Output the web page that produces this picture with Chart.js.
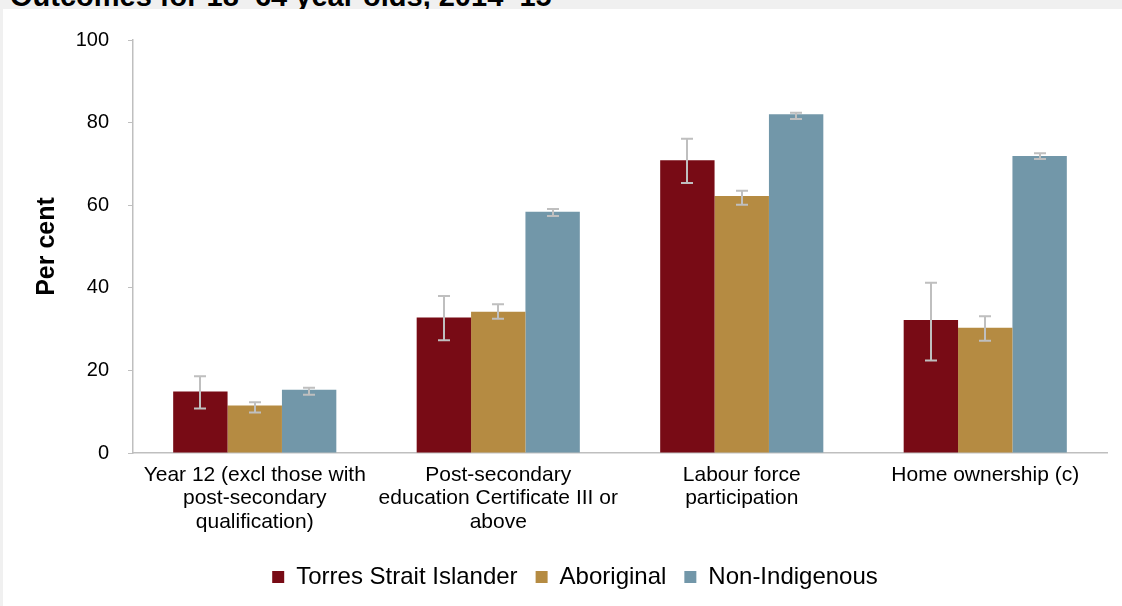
<!DOCTYPE html>
<html>
<head>
<meta charset="utf-8">
<script src="https://cdn.jsdelivr.net/npm/chart.js@4"></script>
<style>
  html, body { margin: 0; padding: 0; }
  body { width: 1122px; height: 606px; background: #f0f0f0; position: relative; overflow: hidden; font-family: "Liberation Sans", Arial, sans-serif; }
  #title { position: absolute; left: 10px; top: -19px; font-size: 29px; line-height: 30px; font-weight: bold; color: #000; white-space: nowrap; }
  #panel { position: absolute; left: 3px; top: 9px; width: 1119px; height: 597px; background: #fff; }
</style>
</head>
<body>
<div id="title">Outcomes for 18–64 year olds, 2014–15</div>
<div id="panel"><canvas id="myChart" width="1119" height="597"></canvas></div>
<script>
var categories = [
  ["Year 12 (excl those with", "post-secondary", "qualification)"],
  ["Post-secondary", "education Certificate III or", "above"],
  ["Labour force", "participation"],
  ["Home ownership (c)"]
];
var seriesNames = ["Torres Strait Islander", "Aboriginal", "Non-Indigenous"];

var torresValues = [14.9, 32.8, 70.9, 32.2];
var aboriginalValues = [11.5, 34.2, 62.2, 30.3];
var nonIndigValues = [15.3, 58.4, 82.0, 71.9];

// confidence intervals
var torresLow = [10.8, 27.3, 65.4, 22.4];
var torresHigh = [18.6, 38.0, 76.1, 41.2];
var aboriginalLow = [9.8, 32.5, 60.1, 27.2];
var aboriginalHigh = [12.3, 36.0, 63.5, 33.1];
var nonIndigLow = [14.1, 57.4, 80.9, 71.2];
var nonIndigHigh = [15.8, 59.1, 82.4, 72.6];

var yTicks = [0, 20, 40, 60, 80, 100];

var colors = ['#780b15', '#b58b42', '#7297a9'];
var errColor = '#bfbfbf';
var lows = [torresLow, aboriginalLow, nonIndigLow];
var highs = [torresHigh, aboriginalHigh, nonIndigHigh];

var errorBars = {
  id: 'errorBars',
  afterDatasetsDraw: function(chart) {
    var ctx = chart.ctx;
    var yScale = chart.scales.y;
    ctx.save();
    ctx.strokeStyle = errColor;
    ctx.lineWidth = 2;
    chart.data.datasets.forEach(function(ds, i) {
      var meta = chart.getDatasetMeta(i);
      meta.data.forEach(function(bar, j) {
        var x = Math.round(bar.x);
        var top = yScale.getPixelForValue(highs[i][j]);
        var bot = yScale.getPixelForValue(lows[i][j]);
        ctx.beginPath();
        ctx.moveTo(x, top); ctx.lineTo(x, bot);
        ctx.moveTo(x - 6, top); ctx.lineTo(x + 6, top);
        ctx.moveTo(x - 6, bot); ctx.lineTo(x + 6, bot);
        ctx.stroke();
      });
    });
    ctx.restore();
  }
};

Chart.defaults.font.family = '"Liberation Sans", Arial, sans-serif';
Chart.defaults.color = '#000';

new Chart("myChart", {
  type: "bar",
  data: {
    labels: categories,
    datasets: [
      { label: seriesNames[0], data: torresValues, backgroundColor: colors[0] },
      { label: seriesNames[1], data: aboriginalValues, backgroundColor: colors[1] },
      { label: seriesNames[2], data: nonIndigValues, backgroundColor: colors[2] }
    ]
  },
  options: {
    responsive: false,
    animation: false,
    categoryPercentage: 0.67,
    barPercentage: 1.0,
    layout: { padding: { left: 40, right: 15, top: 30, bottom: 7 } },
    plugins: {
      legend: {
        position: 'bottom',
        labels: { boxWidth: 12, boxHeight: 12, padding: 18, font: { size: 24 } }
      },
      tooltip: { enabled: false }
    },
    scales: {
      x: {
        grid: { display: false },
        border: { display: true, color: errColor, width: 1.5 },
        ticks: { font: { size: 21, lineHeight: 1.1 }, padding: 3, maxRotation: 0, autoSkip: false },
        afterFit: function(scale) { scale.height = 94; }
      },
      y: {
        min: 0,
        max: 100,
        afterBuildTicks: function(scale) {
          scale.ticks = yTicks.map(function(v) { return { value: v }; });
        },
        grid: { drawOnChartArea: false, tickLength: 5, color: errColor },
        border: { color: errColor, width: 1.5 },
        ticks: { font: { size: 20 }, padding: 19 },
        title: {
          display: true,
          text: 'Per cent',
          font: { size: 25, weight: 'bold' },
          padding: { top: -11, bottom: 0 }
        },
        afterFit: function(scale) { scale.width = 90; }
      }
    }
  },
  plugins: [errorBars]
});
</script>
</body>
</html>
